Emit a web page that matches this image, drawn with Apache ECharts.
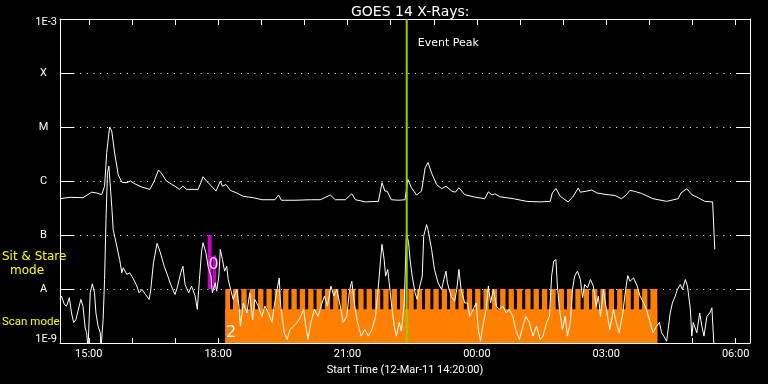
<!DOCTYPE html>
<html><head><meta charset="utf-8">
<script src="https://cdn.jsdelivr.net/npm/echarts@6/dist/echarts.min.js"></script>
<style>html,body{margin:0;padding:0;background:#000}#c{width:768px;height:384px}</style>
</head><body><div id="c"></div>
<script>
// time in minutes after 00:00 on 12-Mar-2011 (values >1440 are next day)
const xStart = 860, xEnd = 1820;
const hourTicks = [900,960,1020,1080,1140,1200,1260,1320,1380,1440,1500,1560,1620,1680,1740,1800];
const hourLabels = [900,1080,1260,1440,1620,1800];
const classLabels = {'-3':'1E-3','-4':'X','-5':'M','-6':'C','-7':'B','-8':'A','-9':'1E-9'};

// long channel (1-8 A), W/m^2
const upTimes = [
 860,874,892,904,911,918,922,925,929,932,
 936,941,946,953,958,964,974,985,991,997,
 1001,1008,1020,1026,1031,1036,1052,1056,1059,1064,
 1071,1077,1083,1086,1091,1097,1106,1115,1129,1141,
 1159,1164,1168,1187,1210,1222,1236,1243,1257,1266,
 1271,1285,1303,1308,1312,1315,1321,1331,1340,1344,
 1349,1356,1363,1368,1372,1377,1384,1391,1397,1405,
 1410,1415,1423,1435,1451,1456,1461,1465,1472,1491,
 1509,1528,1542,1545,1550,1556,1567,1574,1581,1584,
 1593,1600,1607,1621,1632,1641,1647,1653,1658,1669,
 1685,1704,1720,1724,1732,1739,1748,1757,1768,1770,
 1771];
const upFlux = [
 4.7e-7,5.0e-7,4.9e-7,6.2e-7,6.0e-7,5.6e-7,8.0e-7,3.4e-6,1.0e-5,8.4e-6,
 3.3e-6,1.3e-6,9.5e-7,9.3e-7,1.0e-6,8.9e-7,7.7e-7,7.0e-7,9.9e-7,1.6e-6,
 1.4e-6,1.0e-6,8.0e-7,7.0e-7,8.0e-7,7.0e-7,7.0e-7,9.3e-7,1.2e-6,9.9e-7,
 8.0e-7,6.5e-7,9.9e-7,8.0e-7,8.6e-7,6.7e-7,6.0e-7,5.2e-7,4.9e-7,4.5e-7,
 4.5e-7,5.5e-7,4.4e-7,4.4e-7,4.5e-7,4.5e-7,5.5e-7,4.5e-7,4.5e-7,5.8e-7,
 4.5e-7,4.1e-7,4.2e-7,9.3e-7,6.5e-7,6.5e-7,4.5e-7,4.4e-7,4.5e-7,1.07e-6,
 7.5e-7,5.5e-7,6.5e-7,1.75e-6,2.2e-6,1.4e-6,8.6e-7,7.2e-7,8.0e-7,6.5e-7,
 6.2e-7,7.5e-7,5.6e-7,5.1e-7,4.7e-7,6.3e-7,5.5e-7,5.8e-7,5.1e-7,4.7e-7,
 4.2e-7,4.1e-7,4.2e-7,6.0e-7,7.3e-7,5.2e-7,4.1e-7,5.2e-7,7.4e-7,6.2e-7,
 6.5e-7,6.8e-7,6.0e-7,5.6e-7,5.4e-7,4.7e-7,5.4e-7,6.7e-7,6.5e-7,5.9e-7,
 4.7e-7,4.2e-7,4.7e-7,6.0e-7,7.2e-7,5.6e-7,4.9e-7,4.2e-7,4.1e-7,4.1e-7,
 5.4e-8];

// short channel (0.5-4 A), W/m^2
const lowTimes = [
 860,862,866,869,873,876,879,882,885,889,
 892,895,897,899,902,905,908,910,913,916,
 917,920,922,924,926,928,930,932,934,939,
 943,946,948,953,957,962,967,970,974,979,
 984,986,990,995,999,1005,1010,1014,1020,1023,
 1028,1031,1034,1039,1043,1048,1051,1054,1057,1059,
 1063,1066,1070,1072,1076,1078,1081,1083,1086,1089,
 1092,1094,1098,1101,1106,1109,1111,1115,1120,1124,
 1128,1131,1136,1141,1145,1150,1155,1158,1162,1165,
 1167,1172,1176,1180,1185,1190,1194,1199,1202,1205,
 1209,1214,1219,1223,1228,1232,1237,1241,1245,1250,
 1254,1259,1263,1266,1270,1274,1279,1284,1289,1294,
 1299,1303,1306,1308,1311,1313,1316,1318,1321,1325,
 1328,1332,1335,1339,1342,1345,1347,1350,1354,1357,
 1360,1364,1366,1370,1372,1377,1381,1386,1391,1394,
 1397,1399,1404,1409,1412,1415,1418,1423,1427,1430,
 1435,1439,1442,1445,1449,1453,1456,1459,1463,1467,
 1471,1476,1481,1485,1490,1494,1499,1504,1508,1513,
 1518,1523,1528,1532,1537,1541,1544,1547,1550,1552,
 1555,1559,1563,1566,1570,1573,1576,1580,1584,1587,
 1590,1594,1598,1602,1606,1609,1612,1616,1621,1625,
 1630,1634,1638,1643,1647,1650,1653,1658,1663,1667,
 1672,1676,1681,1685,1690,1694,1697,1700,1704,1709,
 1712,1716,1719,1723,1726,1730,1733,1737,1739,1741,
 1746,1750,1753,1756,1760,1764,1767,1769,1770];
const lowFlux = [
 6.4e-9,7.4e-9,5.2e-9,4.8e-9,6.9e-9,3.6e-9,2.4e-9,2.7e-9,3.9e-9,6.4e-9,
 4.8e-9,1.9e-9,1.55e-9,8e-10,8.5e-9,1.25e-8,8.5e-9,3.6e-9,2.05e-9,1.55e-9,
 8e-10,2.7e-9,1.5e-8,1.94e-7,1.42e-6,1.88e-6,1.75e-6,3.4e-7,1.26e-7,6.2e-8,
 3.5e-8,2.0e-8,2.47e-8,1.86e-8,2.0e-8,1.55e-8,1.13e-8,8.5e-9,9.8e-9,7.9e-9,
 6.4e-9,9.1e-9,3.05e-8,7.0e-8,5.0e-8,2.64e-8,1.73e-8,1.21e-8,7.9e-9,1.05e-8,
 2.0e-8,2.64e-8,1.21e-8,8.5e-9,1.13e-8,7.4e-9,4.2e-9,1.5e-8,5.0e-8,7.2e-8,
 4.7e-8,2.64e-8,1.73e-8,8.5e-9,1.3e-8,9.1e-9,1.73e-8,5.4e-8,3.5e-8,2.14e-8,
 2.64e-8,1.5e-8,9.1e-9,6.4e-9,9.8e-9,4.8e-9,2.05e-9,5.5e-9,3.6e-9,8.5e-9,
 2.7e-9,6.4e-9,4.8e-9,3.1e-9,4.8e-9,3.6e-9,2.4e-9,4.8e-9,9.8e-9,1.6e-8,
 4.8e-9,1.55e-9,1.16e-9,1.78e-9,2.05e-9,2.4e-9,2.9e-9,4.2e-9,2.05e-9,1.16e-9,
 2.4e-9,4.2e-9,3.1e-9,4.8e-9,7.4e-9,4.8e-9,1.13e-8,7.4e-9,9.8e-9,4.8e-9,
 2.4e-9,3.1e-9,9.8e-9,1.39e-8,4.8e-9,2.4e-9,1.34e-9,1.78e-9,1.34e-9,1.78e-9,
 3.1e-9,1.13e-8,3.5e-8,6.7e-8,3.5e-8,1.73e-8,2.3e-8,1.3e-8,5.5e-9,2.05e-9,
 1.34e-9,2.4e-9,1.66e-9,5.5e-9,1.1e-7,7.2e-8,3.5e-8,1.73e-8,8.5e-9,6.4e-9,
 1.05e-8,1.73e-8,9.5e-8,1.56e-7,1.26e-7,5.4e-8,2.3e-8,1.3e-8,9.8e-9,1.5e-8,
 2.14e-8,1.3e-8,7.4e-9,5.9e-9,9.8e-9,2.3e-8,9.8e-9,5.5e-9,5.5e-9,3.1e-9,
 4.2e-9,5.5e-9,1.78e-9,1.08e-9,2.4e-9,4.2e-9,1.13e-8,5.5e-9,9.8e-9,4.8e-9,
 4.2e-9,4.8e-9,3.6e-9,4.2e-9,3.1e-9,1.78e-9,1.16e-9,2.05e-9,3.1e-9,2.4e-9,
 1.34e-9,2.05e-9,1.16e-9,1.34e-9,2.4e-9,3.1e-9,1.73e-8,3.3e-8,3.5e-8,1.13e-8,
 4.2e-9,1.78e-9,3.1e-9,1.34e-9,2.4e-9,9.8e-9,1.73e-8,2.14e-8,1.5e-8,6.9e-9,
 1.21e-8,1.05e-8,1.5e-8,1.13e-8,4.8e-9,7.4e-9,3.1e-9,9.8e-9,3.6e-9,1.78e-9,
 4.2e-9,2.4e-9,1.55e-9,3.6e-9,9.8e-9,1.78e-8,1.39e-8,1.6e-8,1.13e-8,7.4e-9,
 5.5e-9,4.2e-9,2.4e-9,1.55e-9,2.05e-9,2.4e-9,1.55e-9,1.34e-9,1.08e-9,3.6e-9,
 5.5e-9,7.4e-9,9.8e-9,1.21e-8,9.8e-9,1.5e-8,1.13e-8,4.2e-9,1.34e-9,2.4e-9,
 1.55e-9,3.6e-9,2.05e-9,1.34e-9,3.1e-9,3.6e-9,4.5e-9,4.4e-9,8e-10];

// Scan mode schedule (orange comb): window, exposure gaps (notches)
const scanStart = 1090, scanEnd = 1691;
const scanTop = 1e-8, scanNotchFloor = 4.2e-9, fluxFloor = 1e-9;
const notchWidth = 4.2;
const notchStarts = [
 1096.5,1108.1,1119.7,1131.4,1143.0,1154.6,1166.2,1177.8,1189.4,1201.1,
 1212.7,1224.3,1235.9,1247.5,1259.1,1270.8,1282.4,1294.0,1305.6,1317.2,
 1328.8,1340.5,1352.1,1363.7,1375.3,1386.9,1398.5,1410.2,1421.8,1433.4,
 1445.0,1456.6,1468.2,1479.9,1491.5,1503.1,1514.7,1526.3,1537.9,1549.6,
 1561.2,1572.8,1584.4,1596.0,1607.6,1619.3,1630.9,1642.5,1654.1,1665.7,
 1677.3];

// Sit & Stare mode blocks (magenta)
const ssStart = [1065.5, 1072.5];
const ssEnd = [1071, 1077];
const ssTop = [1e-7, 4.2e-8];
const ssBottom = 1e-8;

// mode markers
const markText = ['0', '2'];
const markTime = [1073.6, 1098];
const markFlux = [2.84e-8, 1.56e-9];
const markColor = ['#ffc8ff', '#ffffff'];

const eventPeak = 1342.4;

const pad = n => (n < 10 ? '0' : '') + n;
const fmtTime = v => pad(Math.floor(v / 60) % 24) + ':' + pad(Math.round(v % 60));

// build data
const upData = upTimes.map((t, i) => [t, upFlux[i]]);
const lowData = lowTimes.map((t, i) => [t, lowFlux[i]]);
const scanRects = [[scanStart, scanEnd, scanNotchFloor]];
let prev = scanStart;
notchStarts.forEach(n => { scanRects.push([prev, n, scanTop]); prev = n + notchWidth; });
scanRects.push([prev, scanEnd, scanTop]);
const ssRects = ssStart.map((s, i) => [s, ssEnd[i], ssTop[i]]);
const markData = markText.map((t, i) => [markTime[i], markFlux[i], i]);

function rectRenderer(color, bottom) {
  return function (params, api) {
    const p0 = api.coord([api.value(0), api.value(2)]);
    const p1 = api.coord([api.value(1), bottom]);
    return { type: 'rect', shape: { x: p0[0], y: p0[1], width: p1[0] - p0[0], height: p1[1] - p0[1] },
      style: { fill: color } };
  };
}

const chart = echarts.init(document.getElementById('c'), null, { renderer: 'canvas' });
const white = '#ffffff';
const tickFont = { color: white, fontFamily: 'Roboto', fontSize: 11 };

chart.setOption({
  backgroundColor: '#000000',
  animation: false,
  title: {
    text: 'GOES 14 X-Rays:', left: 346, top: 0,
    textStyle: { color: white, fontFamily: 'DejaVu Sans', fontSize: 14, fontWeight: 'normal' }
  },
  grid: { left: 60, top: 19, width: 690, height: 324, containLabel: false },
  xAxis: [{
    type: 'value', min: xStart, max: xEnd, position: 'bottom',
    axisLine: { lineStyle: { color: white, width: 1 } },
    axisTick: { inside: true, length: 5, customValues: hourTicks, lineStyle: { color: white } },
    axisLabel: Object.assign({ customValues: hourLabels, formatter: fmtTime, margin: 6 }, tickFont),
    splitLine: { show: false },
    name: 'Start Time (12-Mar-11 14:20:00)', nameLocation: 'middle', nameGap: 19,
    nameTextStyle: { color: white, fontFamily: 'Roboto', fontSize: 11 }
  }, {
    type: 'value', min: xStart, max: xEnd, position: 'top',
    axisLine: { lineStyle: { color: white, width: 1 } },
    axisTick: { inside: true, length: 6, customValues: hourTicks, lineStyle: { color: white } },
    axisLabel: { show: false }, splitLine: { show: false }
  }],
  yAxis: [{
    type: 'log', logBase: 10, min: 1e-9, max: 1e-3, splitNumber: 6, position: 'left',
    axisLine: { show: true, lineStyle: { color: white, width: 1 } },
    axisTick: { show: true, inside: true, length: 14, lineStyle: { color: white } },
    axisLabel: {
      color: white, fontFamily: 'Roboto', fontSize: 11, margin: 3,
      formatter: v => {
        const e = Math.round(Math.log10(v));
        const s = classLabels[String(e)] || '';
        if (e === -3) return '{t|' + s + '}';
        if (e === -9) return '{b|' + s + '}';
        return '{c|' + s + '}';
      },
      rich: {
        t: { padding: [7, 0, 0, 0], color: white, fontFamily: 'Roboto', fontSize: 11 },
        b: { padding: [0, 0, 7, 0], color: white, fontFamily: 'Roboto', fontSize: 11 },
        c: { width: 27, align: 'center', color: white, fontFamily: 'Roboto', fontSize: 11 }
      }
    },
    splitLine: { show: true, lineStyle: { color: white, width: 1, type: [1, 5.7] } }
  }, {
    type: 'log', logBase: 10, min: 1e-9, max: 1e-3, splitNumber: 6, position: 'right',
    axisLine: { show: true, lineStyle: { color: white, width: 1 } },
    axisTick: { show: true, inside: true, length: 14, lineStyle: { color: white } },
    axisLabel: { show: false }, splitLine: { show: false }
  }],
  graphic: [
    { type: 'text', left: 2, top: 251, style: { text: 'Sit & Stare', fill: '#ffff00', font: '12px "DejaVu Sans"' } },
    { type: 'text', left: 10, top: 265, style: { text: 'mode', fill: '#ffff00', font: '12px "DejaVu Sans"' } },
    { type: 'text', left: 2, top: 316, style: { text: 'Scan mode', fill: '#ffff00', font: '11.5px Roboto' } }
  ],
  series: [
    { type: 'custom', name: 'scan', xAxisIndex: 0, yAxisIndex: 0, z: 1, silent: true,
      renderItem: rectRenderer('#ff8000', fluxFloor), data: scanRects, encode: { x: [0, 1], y: 2 } },
    { type: 'custom', name: 'sitstare', xAxisIndex: 0, yAxisIndex: 0, z: 1, silent: true,
      renderItem: rectRenderer('#cc00cc', ssBottom), data: ssRects, encode: { x: [0, 1], y: 2 } },
    { type: 'line', name: 'long', data: upData, showSymbol: false, symbol: 'none', z: 3,
      lineStyle: { color: white, width: 1 }, clip: true },
    { type: 'line', name: 'short', data: lowData, showSymbol: false, symbol: 'none', z: 3,
      lineStyle: { color: white, width: 1 }, clip: true },
    { type: 'custom', name: 'marks', z: 4, silent: true, data: markData,
      renderItem: (params, api) => {
        const p = api.coord([api.value(0), api.value(1)]);
        const i = api.value(2);
        return { type: 'text', x: p[0], y: p[1],
          style: { text: markText[i], fill: markColor[i], font: '16px "DejaVu Sans"', align: 'center', verticalAlign: 'middle' } };
      } },
    { type: 'custom', name: 'event', z: 5, silent: true, data: [[eventPeak, 1e-3]],
      renderItem: (params, api) => {
        const top = api.coord([api.value(0), 1e-3]);
        const bot = api.coord([api.value(0), fluxFloor]);
        return { type: 'group', children: [
          { type: 'line', shape: { x1: top[0], y1: top[1], x2: bot[0], y2: bot[1] },
            style: { stroke: '#9ccc00', lineWidth: 2 } },
          { type: 'text', x: top[0] + 11, y: top[1] + 24,
            style: { text: 'Event Peak', fill: white, font: '11px "DejaVu Sans"', align: 'left', verticalAlign: 'middle' } }
        ] };
      } }
  ]
});
</script>
</body></html>
